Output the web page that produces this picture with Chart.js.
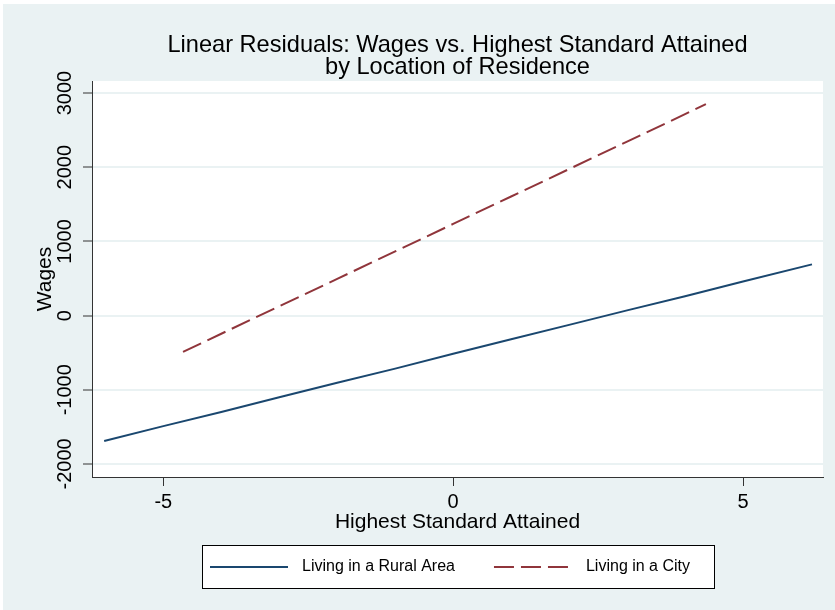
<!DOCTYPE html>
<html>
<head>
<meta charset="utf-8">
<script src="https://cdn.jsdelivr.net/npm/chart.js@4/dist/chart.umd.min.js"></script>
<style>
  html, body { margin: 0; padding: 0; background: #ffffff; }
  #c { display: block; }
</style>
</head>
<body>
<canvas id="c" width="835" height="610"></canvas>
<script>
// Text
const chartTitle = ['Linear Residuals: Wages vs. Highest Standard Attained', 'by Location of Residence'];
const xTitle = 'Highest Standard Attained';
const yTitle = 'Wages';
const seriesNames = ['Living in a Rural Area', 'Living in a City'];

// Tick values
const xTicks = [-5, 0, 5];
const yTicks = [-2000, -1000, 0, 1000, 2000, 3000];

// Fitted wages by highest standard attained (residual scale)
const ruralX = [-6.02, -5, -4, -3, -2, -1, 0, 1, 2, 3, 4, 5, 6.19];
const ruralY = [-1690, -1490, -1300, -1100, -905, -715, -515, -320, -125, 70, 260, 460, 690];
const cityX = [-4.66, -4, -3, -2, -1, 0, 1, 2, 3, 4, 4.36];
const cityY = [-490, -245, 125, 495, 865, 1235, 1605, 1975, 2345, 2715, 2850];

const FONT = "'Liberation Sans', Arial, Helvetica, sans-serif";
const BG = '#eaf2f3';
const AXIS = '#333333';

Chart.defaults.font.family = FONT;
Chart.defaults.color = '#000000';

const toPoints = (xs, ys) => xs.map((x, i) => ({ x: x, y: ys[i] }));
const plain = v => String(v);

// Graph region, plot region and the boxed legend beneath the x title
const frame = {
  id: 'frame',
  beforeDraw(chart) {
    const { ctx, chartArea: a } = chart;
    ctx.save();
    ctx.fillStyle = BG;
    ctx.fillRect(3, 4, chart.width - 3, chart.height - 4);
    ctx.fillStyle = '#ffffff';
    ctx.fillRect(a.left, a.top, a.right - a.left, a.bottom - a.top);
    ctx.restore();
  },
  afterDraw(chart) {
    const { ctx, chartArea: a } = chart;
    const cx = (a.left + a.right) / 2;
    const bw = 512, bh = 43;
    const bx = Math.round(cx - bw / 2), by = 545;
    ctx.save();
    ctx.fillStyle = '#ffffff';
    ctx.fillRect(bx, by, bw, bh);
    ctx.strokeStyle = '#000000';
    ctx.lineWidth = 1;
    ctx.strokeRect(bx + 0.5, by + 0.5, bw, bh);
    ctx.font = '16px ' + FONT;
    ctx.textBaseline = 'middle';
    ctx.textAlign = 'left';
    const yMid = by + bh / 2 + 0.5;
    let x = bx + 8;
    chart.data.datasets.forEach(ds => {
      ctx.beginPath();
      ctx.strokeStyle = ds.borderColor;
      ctx.lineWidth = ds.borderWidth;
      ctx.setLineDash(ds.borderDash || []);
      ctx.moveTo(x, yMid);
      ctx.lineTo(x + 78, yMid);
      ctx.stroke();
      ctx.setLineDash([]);
      ctx.fillStyle = '#000000';
      ctx.fillText(ds.label, x + 92, yMid);
      x += 92 + ctx.measureText(ds.label).width + 39;
    });
    ctx.restore();
  }
};

new Chart(document.getElementById('c'), {
  type: 'line',
  data: {
    datasets: [
      {
        label: seriesNames[0],
        data: toPoints(ruralX, ruralY),
        borderColor: '#1a476f',
        borderWidth: 2,
        pointRadius: 0,
        tension: 0,
        fill: false
      },
      {
        label: seriesNames[1],
        data: toPoints(cityX, cityY),
        borderColor: '#90353b',
        borderWidth: 2,
        borderDash: [20, 7],
        pointRadius: 0,
        tension: 0,
        fill: false
      }
    ]
  },
  options: {
    responsive: false,
    animation: false,
    devicePixelRatio: 1,
    layout: { padding: { left: 0, right: 12, top: 0, bottom: 75 } },
    plugins: {
      legend: { display: false },
      tooltip: { enabled: false },
      title: {
        display: true,
        text: chartTitle,
        fullSize: false,
        color: '#000000',
        font: { family: FONT, size: 23.6, weight: 'normal', lineHeight: '22px' },
        padding: { top: 34, bottom: 3 }
      }
    },
    scales: {
      x: {
        type: 'linear',
        min: -6.23,
        max: 6.38,
        afterBuildTicks: s => { s.ticks = xTicks.map(v => ({ value: v })); },
        afterFit: s => { s.height = 58; },
        grid: { drawOnChartArea: false, drawTicks: true, tickLength: 9, tickColor: AXIS, tickWidth: 1 },
        border: { display: true, color: AXIS, width: 1 },
        ticks: { autoSkip: false, maxRotation: 0, padding: 4, color: '#000000', font: { size: 20 }, callback: plain },
        title: { display: true, text: xTitle, color: '#000000', font: { size: 21 }, padding: { top: 0, bottom: 0 } }
      },
      y: {
        type: 'linear',
        min: -2176,
        max: 3162,
        afterBuildTicks: s => { s.ticks = yTicks.map(v => ({ value: v })); },
        afterFit: s => { s.width = 92; },
        grid: { color: BG, lineWidth: 2, drawTicks: true, tickLength: 9, tickColor: AXIS, tickWidth: 1 },
        border: { display: true, color: AXIS, width: 1 },
        ticks: { autoSkip: false, minRotation: 90, maxRotation: 90, crossAlign: 'center', padding: -8, color: '#000000', font: { size: 20 }, callback: plain },
        title: { display: true, text: yTitle, color: '#000000', font: { size: 21 }, padding: { top: 33, bottom: 0 } }
      }
    }
  },
  plugins: [frame]
});
</script>
</body>
</html>
